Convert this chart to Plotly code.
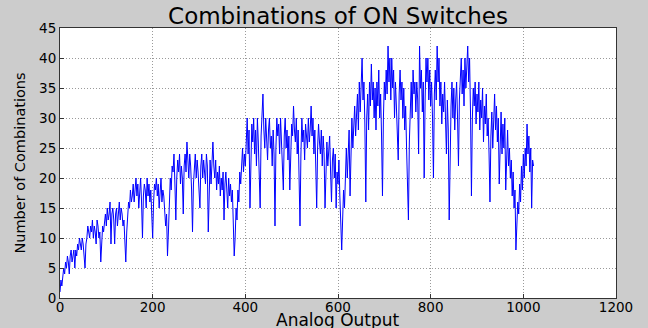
import plotly.graph_objects as go

# x positions (analog output codes, every 2nd code)
analog_output = list(range(0, 1024, 2))

# number of combinations (chunks of 16 values = 32 codes)
combinations = [
    1, 3, 2, 4, 5, 4, 6, 5, 7, 6, 4, 7, 8, 6, 7, 8,
    5, 8, 7, 9, 8, 10, 9, 8, 10, 9, 7, 5, 9, 10, 12, 11,
    10, 12, 11, 13, 10, 12, 11, 9, 13, 12, 10, 11, 6, 9, 12, 11,
    13, 14, 12, 15, 13, 14, 16, 9, 14, 15, 13, 9, 14, 15, 12, 14,
    16, 13, 15, 14, 12, 13, 10, 6, 11, 14, 16, 15, 18, 16, 17, 19,
    16, 18, 20, 17, 19, 15, 18, 20, 16, 10, 17, 19, 18, 15, 20, 17,
    19, 16, 18, 14, 10, 16, 19, 18, 20, 17, 19, 15, 18, 20, 16, 18,
    17, 15, 12, 14, 7, 11, 16, 20, 18, 22, 21, 24, 19, 13, 20, 23,
    21, 24, 19, 22, 20, 14, 22, 24, 21, 26, 23, 20, 24, 22, 18, 11,
    19, 22, 24, 20, 23, 21, 18, 15, 22, 24, 20, 23, 21, 19, 24, 22,
    11, 20, 23, 19, 24, 26, 22, 20, 23, 18, 21, 19, 22, 17, 20, 18,
    21, 13, 19, 21, 18, 15, 20, 17, 19, 16, 18, 12, 7, 10, 15, 13,
    18, 16, 21, 19, 23, 25, 21, 24, 22, 27, 30, 24, 28, 15, 25, 29,
    26, 30, 24, 28, 22, 30, 26, 20, 15, 27, 30, 34, 28, 25, 30, 27,
    23, 28, 30, 25, 27, 22, 28, 24, 12, 25, 30, 27, 29, 24, 30, 26,
    22, 18, 27, 30, 25, 28, 23, 27, 18, 25, 29, 27, 32, 28, 26, 30,
    24, 28, 22, 12, 24, 30, 26, 28, 23, 29, 27, 25, 30, 26, 28, 32,
    27, 30, 24, 28, 22, 15, 25, 29, 26, 24, 28, 22, 27, 24, 15, 23,
    26, 22, 25, 27, 21, 16, 23, 25, 20, 24, 15, 21, 19, 23, 17, 12,
    8, 13, 18, 15, 21, 25, 20, 24, 28, 17, 26, 30, 25, 28, 32, 27,
    30, 34, 28, 36, 31, 35, 40, 33, 36, 29, 16, 30, 34, 28, 36, 32,
    39, 33, 36, 30, 35, 28, 36, 32, 38, 30, 34, 27, 17, 30, 36, 33,
    38, 34, 42, 36, 40, 33, 40, 35, 38, 30, 36, 32, 27, 23, 34, 38,
    33, 36, 30, 35, 28, 32, 25, 20, 13, 26, 33, 36, 30, 38, 34, 36,
    31, 36, 33, 24, 42, 35, 38, 31, 36, 20, 33, 40, 36, 40, 33, 38,
    32, 36, 30, 20, 34, 38, 33, 42, 36, 40, 32, 36, 29, 34, 31, 36,
    30, 24, 33, 28, 13, 27, 32, 36, 30, 35, 28, 33, 36, 30, 22, 33,
    36, 40, 34, 38, 32, 40, 35, 38, 42, 36, 40, 31, 17, 30, 35, 32,
    36, 29, 34, 31, 36, 28, 33, 30, 35, 26, 32, 29, 34, 27, 30, 24,
    16, 27, 31, 25, 29, 34, 28, 32, 26, 30, 19, 27, 31, 24, 29, 25,
    30, 18, 26, 28, 22, 25, 20, 23, 17, 21, 15, 18, 8, 12, 16, 14,
    19, 16, 22, 18, 24, 20, 25, 22, 29, 24, 27, 21, 25, 15, 23, 22,
]

x_ticks = [0, 200, 400, 600, 800, 1000, 1200]
y_ticks = [0, 5, 10, 15, 20, 25, 30, 35, 40, 45]

FONT = "DejaVu Sans"

fig = go.Figure()
fig.add_trace(go.Scatter(
    x=analog_output, y=combinations, mode="lines",
    line=dict(color="#0000ff", width=1),
    showlegend=False,
))

axis_common = dict(
    showgrid=True, gridcolor="#9a9a9a", griddash="1px,2px", gridwidth=1,
    showline=True, linecolor="#333333", linewidth=1, mirror=True,
    ticks="inside", ticklen=4, tickcolor="#333333",
    tickfont=dict(family=FONT, size=13.5, color="black"),
    zeroline=False, automargin=False,
)

fig.update_layout(
    width=648, height=328,
    paper_bgcolor="#cccccc", plot_bgcolor="white",
    margin=dict(l=60, r=32, t=28, b=30),
    title=dict(text="Combinations of ON Switches", x=0.5, xanchor="center",
               xref="paper", y=0.95, yanchor="middle",
               font=dict(family=FONT, size=23, color="black")),
    xaxis=dict(range=[0, 1200], tickvals=x_ticks, ticklabelstandoff=-3,
               **axis_common),
    yaxis=dict(range=[0, 45], tickvals=y_ticks,
               title=dict(text="Number of Combinations", standoff=10,
                          font=dict(family=FONT, size=14.5, color="black")),
               **axis_common),
    annotations=[dict(
        text="Analog Output", xref="paper", yref="paper",
        x=0.5, y=0, xanchor="center", yanchor="top", yshift=-10,
        showarrow=False, font=dict(family=FONT, size=17, color="black"),
    )],
)

fig.write_html(
    "out.html",
    config={"displayModeBar": False},
    post_script="document.body.style.margin='0';document.body.style.background='#cccccc';",
)
